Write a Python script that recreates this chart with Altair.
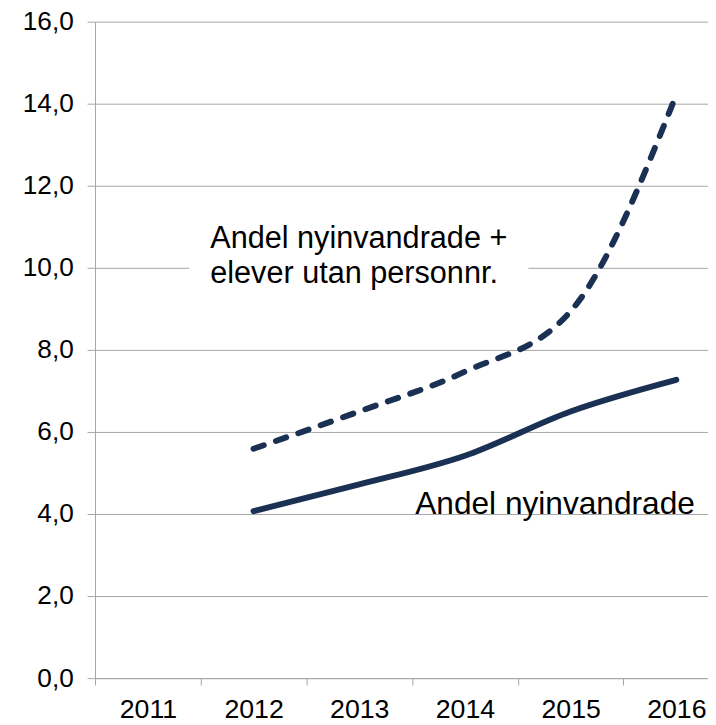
import altair as alt
import pandas as pd

# ---- data ----
years = [2012, 2013, 2014, 2015, 2016]
andel_nyinvandrade = [4.07, 4.72, 5.42, 6.50, 7.27]
andel_plus_utan_pnr = [5.59, 6.50, 7.47, 8.94, 14.22]
category_years = [2011, 2012, 2013, 2014, 2015, 2016]
y_ticks = [0, 2, 4, 6, 8, 10, 12, 14, 16]

label_dashed = "Andel nyinvandrade +\nelever utan personnr."
label_solid = "Andel nyinvandrade"

NAVY = "#1b3154"
GRID = "#a6a6a6"
FONT = "Liberation Sans"

df = pd.DataFrame({
    "year": years * 2,
    "value": andel_nyinvandrade + andel_plus_utan_pnr,
    "series": ["solid"] * len(years) + ["dashed"] * len(years),
})

# category boundaries (ticks sit between categories)
bounds = [y - 0.5 for y in category_years]

x_scale = alt.Scale(domain=[2010.5, 2016.30], nice=False, zero=False)
y_scale = alt.Scale(domain=[0, 16], nice=False)

x_axis = alt.Axis(
    values=bounds, labelExpr="format(datum.value + 0.5, 'd')",
    labelOffset=53.5, labelFlush=False, labelOverlap=False,
    tickSize=7, tickColor=GRID, domainColor=GRID, grid=False,
    labelFontSize=27, labelFont=FONT, labelColor="#000000",
    labelPadding=12, title=None,
)
y_axis = alt.Axis(
    values=y_ticks, labelExpr="replace(format(datum.value, '.1f'), '.', ',')",
    labelFlush=False, labelOverlap=False,
    tickSize=8, tickColor=GRID, domainColor=GRID, gridColor=GRID,
    labelFontSize=26.5, labelFont=FONT, labelColor="#000000",
    labelPadding=14, title=None,
)

base = alt.Chart(df)

solid = base.transform_filter(alt.datum.series == "solid").mark_line(
    color=NAVY, strokeWidth=6, interpolate="monotone", strokeCap="round"
).encode(
    x=alt.X("year:Q", scale=x_scale, axis=x_axis),
    y=alt.Y("value:Q", scale=y_scale, axis=y_axis),
)

dashed = base.transform_filter(alt.datum.series == "dashed").mark_line(
    color=NAVY, strokeWidth=6, interpolate="monotone",
    strokeDash=[11, 13], strokeCap="round"
).encode(x="year:Q", y="value:Q")

# white label box behind the dashed-series label
box = alt.Chart(pd.DataFrame({"x0": [2011.39], "x1": [2014.6], "y0": [9.18], "y1": [11.15]})).mark_rect(
    color="white"
).encode(x="x0:Q", x2="x1:Q", y="y0:Q", y2="y1:Q")

text_dashed = alt.Chart(pd.DataFrame({"x": [2011.59], "y": [10.475], "t": [label_dashed]})).mark_text(
    align="left", baseline="alphabetic", fontSize=31, font=FONT, color="#000000",
    lineBreak="\n", lineHeight=35
).encode(x="x:Q", y="y:Q", text="t:N")

text_solid = alt.Chart(pd.DataFrame({"x": [2013.53], "y": [4.0], "t": [label_solid]})).mark_text(
    align="left", baseline="alphabetic", fontSize=32, font=FONT, color="#000000"
).encode(x="x:Q", y="y:Q", text="t:N")

chart = alt.layer(box, solid, dashed, text_dashed, text_solid).properties(
    width=620, height=664,
    autosize=alt.AutoSizeParams(type="none"),
    padding={"left": 88, "top": 9.7, "right": 0, "bottom": 43.3},
    background="white",
).configure_view(stroke=None)

chart.save("out.html", embed_options={"renderer": "svg", "actions": False})
